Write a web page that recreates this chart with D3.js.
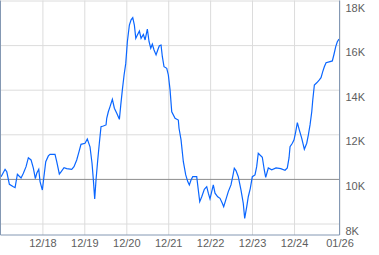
<!DOCTYPE html>
<html>
<head>
<meta charset="utf-8">
<script src="https://cdn.jsdelivr.net/npm/d3@7"></script>
<style>
  body { margin: 0; background: #fff; }
  svg { display: block; font-family: "Liberation Sans", Arial, sans-serif; }
</style>
</head>
<body>
<script>
// growth of 10K, decimal years and values
const years = [
  2017.929, 2018.024, 2018.065, 2018.127, 2018.222, 2018.263, 2018.318, 2018.358, 2018.406, 2018.461,
  2018.525, 2018.580, 2018.644, 2018.699, 2018.747, 2018.780, 2018.828, 2018.859, 2018.914, 2018.947,
  2018.995, 2019.057, 2019.097, 2019.216, 2019.257, 2019.319, 2019.360, 2019.431, 2019.495, 2019.615,
  2019.669, 2019.734, 2019.789, 2019.836, 2019.932, 2019.987, 2020.051, 2020.099, 2020.130, 2020.163,
  2020.194, 2020.235, 2020.273, 2020.313, 2020.368, 2020.433, 2020.449, 2020.487, 2020.528, 2020.583,
  2020.631, 2020.688, 2020.750, 2020.783, 2020.821, 2020.862, 2020.902, 2020.940, 2020.988, 2021.029,
  2021.069, 2021.107, 2021.141, 2021.179, 2021.227, 2021.267, 2021.322, 2021.363, 2021.417, 2021.458,
  2021.498, 2021.536, 2021.577, 2021.625, 2021.665, 2021.703, 2021.744, 2021.775, 2021.815, 2021.880,
  2021.918, 2021.959, 2021.999, 2022.078, 2022.156, 2022.173, 2022.221, 2022.276, 2022.333, 2022.381,
  2022.419, 2022.459, 2022.500, 2022.595, 2022.633, 2022.667, 2022.715, 2022.777, 2022.834, 2022.872,
  2022.912, 2022.953, 2022.991, 2023.032, 2023.096, 2023.151, 2023.206, 2023.239, 2023.287, 2023.349,
  2023.413, 2023.454, 2023.492, 2023.532, 2023.587, 2023.652, 2023.706, 2023.740, 2023.788, 2023.826,
  2023.874, 2023.922, 2023.986, 2024.026, 2024.064, 2024.105, 2024.160, 2024.207, 2024.241, 2024.303,
  2024.384, 2024.487, 2024.599, 2024.701, 2024.755, 2024.796, 2024.820, 2024.875, 2024.915, 2024.956,
  2024.994, 2025.042, 2025.099, 2025.161, 2025.218, 2025.257, 2025.297, 2025.338, 2025.362, 2025.400,
  2025.457, 2025.519, 2025.559, 2025.600, 2025.638, 2025.679, 2025.774, 2025.829, 2025.869, 2025.910,
  2025.948, 2025.988
];

const values = [
  10100, 10430, 10320, 9760, 9650, 9610, 10210, 10130, 10040, 10250,
  10550, 10950, 10850, 10480, 10010, 10250, 10430, 9880, 9500, 10030,
  10770, 11030, 11100, 11100, 10770, 10220, 10320, 10500, 10460, 10430,
  10550, 10850, 11220, 11550, 11600, 11790, 11440, 10700, 9980, 9100,
  9950, 10850, 11600, 12340, 12370, 12420, 12720, 13010, 13240, 13570,
  13170, 12940, 12670, 13310, 13990, 14660, 15180, 16150, 16900, 17130,
  17230, 16900, 16300, 16450, 16630, 16300, 16480, 16230, 16720, 16150,
  15860, 16040, 15780, 15560, 15780, 15970, 16000, 15480, 15030, 14960,
  14660, 13990, 13010, 12720, 12640, 12270, 11750, 10770, 10180, 9880,
  9730, 9950, 10100, 10100, 9500, 8980, 9200, 9530, 9650, 9360,
  9100, 9430, 9730, 9360, 9200, 9130, 8910, 8750, 9050, 9430,
  9730, 10100, 10480, 10370, 10100, 9500, 8910, 8230, 8750, 9200,
  9580, 10100, 10180, 10550, 11150, 11070, 10970, 10400, 10070, 10490,
  10410, 10490, 10460, 10390, 10490, 10940, 11440, 11600, 11750, 12120,
  12520, 12190, 11820, 11330, 11600, 11970, 12420, 13010, 13540, 14210,
  14310, 14440, 14540, 14810, 15030, 15210, 15260, 15290, 15590, 15930,
  16150, 16270
];

const yTicks = [8000, 10000, 12000, 14000, 16000, 18000];
const xTickDates = ['2018-12-01', '2019-12-01', '2020-12-01', '2021-12-01',
  '2022-12-01', '2023-12-01', '2024-12-01', '2026-01-01'];
const baseValue = 10000;

const W = 379, H = 255;
const plotL = 0.5, plotR = 339.5, plotT = 0.5, plotB = 235;

const toDate = t => {
  const yr = Math.floor(t);
  const start = new Date(yr, 0, 1), end = new Date(yr + 1, 0, 1);
  return new Date(+start + (t - yr) * (end - start));
};
const parse = d3.timeParse('%Y-%m-%d');

const data = years.map((t, i) => ({ date: toDate(t), value: values[i] }));

const x = d3.scaleTime()
  .domain([new Date(2017, 11, 1), new Date(2026, 0, 1)])
  .range([plotL, plotR]);

const y = d3.scaleLinear()
  .domain([8000, 18000])
  .range([223.5, plotT]);

const svg = d3.select('body').append('svg')
  .attr('width', W)
  .attr('height', H);

// x grid + labels
const xAxis = d3.axisBottom(x)
  .tickValues(xTickDates.map(parse))
  .tickFormat(d3.timeFormat('%m/%y'))
  .tickSizeInner(-(plotB - plotT))
  .tickSizeOuter(0)
  .tickPadding(4);

const gx = svg.append('g')
  .attr('transform', `translate(0,${plotB})`)
  .call(xAxis);
gx.select('.domain').remove();
gx.selectAll('line').attr('stroke', '#dcdcdc');
gx.selectAll('text')
  .attr('fill', '#5e5e5e')
  .attr('font-size', 11)
  .attr('font-family', '"Liberation Sans", Arial, sans-serif');

// y grid + labels on the right
const yAxis = d3.axisRight(y)
  .tickValues(yTicks)
  .tickFormat(d => d / 1000 + 'K')
  .tickSizeInner(-(plotR - plotL))
  .tickSizeOuter(0)
  .tickPadding(6);

const gy = svg.append('g')
  .attr('transform', `translate(${plotR},0)`)
  .call(yAxis);
gy.select('.domain').remove();
gy.selectAll('line')
  .attr('stroke', d => d === baseValue ? '#8c8c8c' : '#dcdcdc');
gy.selectAll('text')
  .attr('dy', null)
  .attr('y', 10.5)
  .attr('fill', '#5e5e5e')
  .attr('font-size', 11)
  .attr('font-family', '"Liberation Sans", Arial, sans-serif');

// the series
const line = d3.line()
  .x(d => x(d.date))
  .y(d => y(d.value));

svg.append('path')
  .datum(data)
  .attr('fill', 'none')
  .attr('stroke', '#0a66ff')
  .attr('stroke-width', 1.2)
  .attr('d', line);

// frame: left, bottom, right
svg.append('path')
  .attr('fill', 'none')
  .attr('stroke', '#8498b3')
  .attr('stroke-width', 1)
  .attr('d', `M${plotL},${plotT}V${plotB}H${plotR}V${plotT}`);
</script>
</body>
</html>
